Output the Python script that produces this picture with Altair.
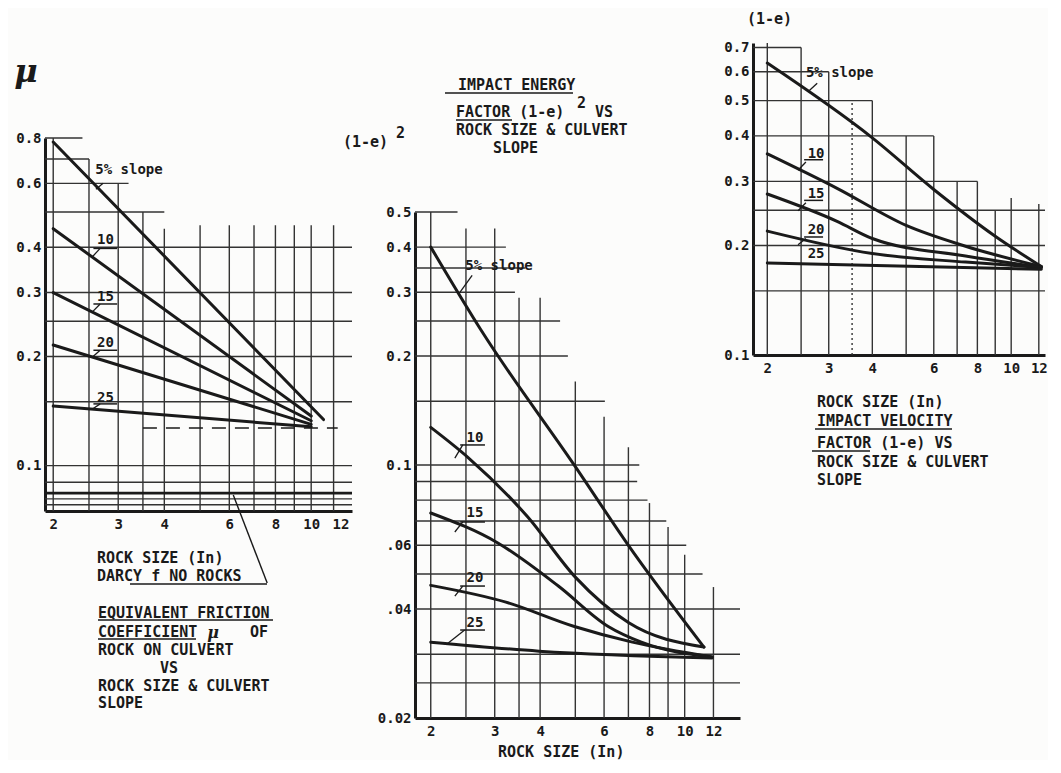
import altair as alt
import pandas as pd

FONT = "DejaVu Sans Mono"
SERIF = "DejaVu Serif"
INK = "#1a1a1a"
GRID = "#333333"
H = 750  # common height of the three columns (pixels)

# ------------------------------------------------------------------ data
ROCK_TICKS = [2, 3, 4, 6, 8, 10, 12]
SLOPE_KEYS = ["5", "10", "15", "20", "25"]
SLOPE_LABELS = ["5% slope", "10", "15", "20", "25"]

# Panel 1 : equivalent friction coefficient mu
P1_X = [[2, 10.8], [2, 10], [2, 10], [2, 10], [2, 10]]
P1_Y = [[0.78, 0.134], [0.45, 0.137], [0.30, 0.133], [0.215, 0.130], [0.146, 0.128]]
P1_XDOM = [1.90, 12.9]
P1_YDOM = [0.075, 0.8]
P1_YTICKS = [0.1, 0.2, 0.3, 0.4, 0.6, 0.8]
P1_YLABELS = ["0.1", "0.2", "0.3", "0.4", "0.6", "0.8"]
P1_VGRID_X = [2, 2.5, 3, 3.5, 4, 5, 6, 7, 8, 9, 10, 11.5]
P1_VGRID_TOP = [0.8, 0.7, 0.6, 0.5, 0.45, 0.46, 0.46, 0.46, 0.46, 0.46, 0.46, 0.46]
P1_HGRID_Y = [0.8, 0.7, 0.6, 0.5, 0.4, 0.3, 0.25, 0.2, 0.15, 0.1, 0.09, 0.081, 0.078]
P1_HGRID_END = [2.4, 2.5, 3.2, 4.0, 12.9, 12.9, 12.9, 12.9, 12.9, 12.9, 12.9, 12.9, 12.9]
P1_DARCY_F = 0.084
P1_DASH_Y = 0.127
P1_DASH_X = [3.5, 11.8]

# Panel 2 : impact energy factor (1-e)^2
P2_X = [[2, 2.75, 5, 7, 11.3],
        [2, 2.53, 3.7, 5, 7, 11.3],
        [2, 3.06, 4.49, 6.16, 7.6, 11.9],
        [2, 3.22, 4.97, 7.18, 11.9],
        [2, 3.97, 11.9]]
P2_Y = [[0.40, 0.236, 0.099, 0.060, 0.0314],
        [0.127, 0.105, 0.0718, 0.049, 0.0367, 0.0314],
        [0.0737, 0.0609, 0.0463, 0.0358, 0.0324, 0.0295],
        [0.0465, 0.0418, 0.0358, 0.0324, 0.0295],
        [0.0324, 0.0306, 0.0293]]
P2_XDOM = [1.81, 14.2]
P2_YDOM = [0.02, 0.5]
P2_YTICKS = [0.02, 0.04, 0.06, 0.1, 0.2, 0.3, 0.4, 0.5]
P2_YLABELS = ["0.02", ".04", ".06", "0.1", "0.2", "0.3", "0.4", "0.5"]
P2_VGRID_X = [2, 2.5, 3, 3.5, 4, 5, 6, 7, 8, 9, 10, 12]
P2_VGRID_TOP = [0.5, 0.45, 0.45, 0.29, 0.29, 0.17, 0.136, 0.112, 0.0785, 0.0674, 0.0565, 0.046]
P2_HGRID_Y = [0.5, 0.4, 0.35, 0.3, 0.25, 0.2, 0.15, 0.1, 0.09, 0.08, 0.07, 0.06, 0.05, 0.04, 0.03, 0.025]
P2_HGRID_END = [2.37, 3.22, 3.64, 3.41, 4.54, 4.77, 6.03, 7.5, 7.4, 7.9, 8.9, 10.1, 11.2, 14.2, 14.2, 14.2]

# Panel 3 : impact velocity factor (1-e)
P3_X = [[2, 4, 6, 9, 12.2],
        [2, 3.17, 5, 7.4, 12.2],
        [2, 3.17, 4, 7.4, 12.2],
        [2, 4, 7.4, 12.2],
        [2, 12.2]]
P3_Y = [[0.634, 0.395, 0.285, 0.212, 0.175],
        [0.357, 0.287, 0.227, 0.199, 0.175],
        [0.277, 0.233, 0.209, 0.187, 0.174],
        [0.219, 0.19, 0.18, 0.174],
        [0.179, 0.172]]
P3_XDOM = [1.82, 12.5]
P3_YDOM = [0.1, 0.72]
P3_YTICKS = [0.1, 0.2, 0.3, 0.4, 0.5, 0.6, 0.7]
P3_YLABELS = ["0.1", "0.2", "0.3", "0.4", "0.5", "0.6", "0.7"]
P3_VGRID_X = [2, 2.5, 3, 4, 5, 6, 7, 8, 9, 10, 12]
P3_VGRID_TOP = [0.72, 0.7, 0.6, 0.5, 0.4, 0.4, 0.3, 0.3, 0.25, 0.27, 0.26]
P3_DOTTED_X = [3.5]
P3_DOTTED_TOP = [0.5]
P3_HGRID_Y = [0.7, 0.6, 0.5, 0.4, 0.3, 0.25, 0.2, 0.15]
P3_HGRID_END = [2.5, 3, 4, 6, 8, 12.5, 12.5, 12.5]

# captions
P1_CAPTION = ["ROCK SIZE (In)", "DARCY f  NO ROCKS", "EQUIVALENT FRICTION", "COEFFICIENT",
              "OF", "ROCK ON CULVERT", "VS", "ROCK SIZE & CULVERT", "SLOPE"]
P2_CAPTION = ["IMPACT ENERGY", "FACTOR (1-e)", "2", "VS", "ROCK SIZE & CULVERT", "SLOPE"]
P2_AXIS_TEXT = ["(1-e)", "2", "ROCK SIZE (In)"]
P3_CAPTION = ["ROCK SIZE (In)", "IMPACT VELOCITY", "FACTOR (1-e) VS", "ROCK SIZE & CULVERT", "SLOPE"]
P3_AXIS_TEXT = "(1-e)"
MU = "μ"

ONE = pd.DataFrame({"k": [0]})


# ------------------------------------------------------------------ helpers
def label_expr(vals, labels):
    parts = [f"abs(datum.value - {v}) < 1e-9 ? '{l}'" for v, l in zip(vals, labels)]
    return " : ".join(parts) + " : ''"


def x_axis(offset):
    return alt.Axis(values=ROCK_TICKS, format="d", title=None, grid=False, ticks=False,
                    tickSize=0, domainColor=INK, domainWidth=3, labelFont=FONT,
                    labelFontSize=14, labelFontWeight="bold", labelColor=INK,
                    labelPadding=6, labelOverlap=False, labelFlush=False, offset=offset)


def y_axis(vals, labels):
    return alt.Axis(values=vals, labelExpr=label_expr(vals, labels), title=None, grid=False,
                    ticks=False, tickSize=0, domainColor=INK, domainWidth=3, labelFont=FONT,
                    labelFontSize=14, labelFontWeight="bold", labelColor=INK,
                    labelPadding=4, labelOverlap=False, labelFlush=False)


def curves_df(xs, ys):
    rows = []
    for key, xl, yl in zip(SLOPE_KEYS, xs, ys):
        for i, (a, b) in enumerate(zip(xl, yl)):
            rows.append({"slope": key, "i": i, "x": a, "y": b})
    return pd.DataFrame(rows)


def txt(t, x, y, size=15, align="left", font=FONT, style="normal", weight="bold"):
    return (alt.Chart(ONE)
            .mark_text(text=t, align=align, baseline="middle", font=font, fontSize=size,
                       fontStyle=style, fontWeight=weight, color=INK)
            .encode(x=alt.value(x), y=alt.value(y)))


def uline(x1, x2, y, w=1.6):
    return (alt.Chart(ONE).mark_rule(color=INK, strokeWidth=w)
            .encode(x=alt.value(x1), x2=alt.value(x2), y=alt.value(y)))


def panel(cx, cy, xdom, ydom, yticks, ylabels, vgx, vgtop, hgy, hgend,
          lab_x, lab_y, unders, leaders, pw, ytop, ybot, colw, interp,
          notes, extra_fn=None, dotted=None):
    xsc = alt.Scale(type="log", domain=xdom, nice=False, range=[0, pw])
    ysc = alt.Scale(type="log", domain=ydom, nice=False, range=[ybot, ytop])
    xax = x_axis(-(H - ybot))
    yax = y_axis(yticks, ylabels)

    def X():
        return alt.X("x:Q", scale=xsc, axis=xax)

    def Y():
        return alt.Y("y:Q", scale=ysc, axis=yax)

    vdf = pd.DataFrame({"x": vgx, "y": [ydom[0]] * len(vgx), "y2": vgtop})
    hdf = pd.DataFrame({"y": hgy, "x": [xdom[0]] * len(hgy), "x2": hgend})
    layers = [
        alt.Chart(vdf).mark_rule(color=GRID, strokeWidth=1.4).encode(x=X(), y=Y(), y2="y2:Q"),
        alt.Chart(hdf).mark_rule(color=GRID, strokeWidth=1.4).encode(x=X(), x2="x2:Q", y=Y()),
    ]
    if dotted is not None:
        ddf = pd.DataFrame({"x": dotted[0], "y": [ydom[0]] * len(dotted[0]), "y2": dotted[1]})
        layers.append(alt.Chart(ddf).mark_rule(color=GRID, strokeWidth=1.4, strokeDash=[2, 3])
                      .encode(x=X(), y=Y(), y2="y2:Q"))
    if extra_fn is not None:
        layers += extra_fn(X, Y)
    cdf = curves_df(cx, cy)
    layers.append(alt.Chart(cdf).mark_line(color=INK, strokeWidth=3, interpolate=interp,
                                           strokeCap="round")
                  .encode(x=X(), y=Y(), detail="slope:N", order="i:Q"))
    tdf = pd.DataFrame({"x": lab_x, "y": lab_y, "t": SLOPE_LABELS})
    layers.append(alt.Chart(tdf).mark_text(align="left", baseline="middle", font=FONT,
                                           fontSize=14, fontWeight="bold", color=INK)
                  .encode(x=X(), y=Y(), text="t:N"))
    udf = pd.DataFrame({"x": [u[0] for u in unders], "x2": [u[1] for u in unders],
                        "y": [u[2] for u in unders]})
    layers.append(alt.Chart(udf).mark_rule(color=INK, strokeWidth=1.5)
                  .encode(x=X(), x2="x2:Q", y=Y()))
    ldf = pd.DataFrame({"x": [l[0] for l in leaders], "y": [l[1] for l in leaders],
                        "x2": [l[2] for l in leaders], "y2": [l[3] for l in leaders]})
    layers.append(alt.Chart(ldf).mark_rule(color=INK, strokeWidth=1.3)
                  .encode(x=X(), y=Y(), x2="x2:Q", y2="y2:Q"))
    layers += notes
    return alt.layer(*layers).properties(width=colw, height=H)


# ------------------------------------------------------------------ panel 1
def p1_extra(X, Y):
    thick = pd.DataFrame({"x": [P1_XDOM[0]], "x2": [P1_XDOM[1]], "y": [P1_DARCY_F]})
    dash = pd.DataFrame({"x": [P1_DASH_X[0]], "x2": [P1_DASH_X[1]], "y": [P1_DASH_Y]})
    arrow = pd.DataFrame({"x": [7.6], "y": [0.0475], "x2": [6.15], "y2": [0.083]})
    return [
        alt.Chart(thick).mark_rule(color=INK, strokeWidth=2.6).encode(x=X(), x2="x2:Q", y=Y()),
        alt.Chart(dash).mark_rule(color=INK, strokeWidth=1.6, strokeDash=[14, 9])
        .encode(x=X(), x2="x2:Q", y=Y()),
        alt.Chart(arrow).mark_rule(color=INK, strokeWidth=1.4)
        .encode(x=X(), y=Y(), x2="x2:Q", y2="y2:Q"),
    ]


B1 = 503  # bottom of panel 1 plot area
notes1 = [
    txt(MU, -19, 64, size=32, align="center", font=SERIF, style="italic", weight="bold"),
    txt(P1_CAPTION[0], 52, B1 + 47),
    txt(P1_CAPTION[1], 52, B1 + 65), uline(85, 222, B1 + 73),
    txt(P1_CAPTION[2], 53, B1 + 102), uline(53, 228, B1 + 109),
    txt(P1_CAPTION[3], 53, B1 + 121), uline(53, 151, B1 + 128),
    txt(MU, 168, B1 + 122, size=16, align="center", font=SERIF, style="italic", weight="bold"),
    txt(P1_CAPTION[4], 205, B1 + 121),
    txt(P1_CAPTION[5], 53, B1 + 139),
    txt(P1_CAPTION[6], 115, B1 + 157),
    txt(P1_CAPTION[7], 53, B1 + 175),
    txt(P1_CAPTION[8], 53, B1 + 192),
]
p1 = panel(P1_X, P1_Y, P1_XDOM, P1_YDOM, P1_YTICKS, P1_YLABELS,
           P1_VGRID_X, P1_VGRID_TOP, P1_HGRID_Y, P1_HGRID_END,
           [2.6, 2.63, 2.63, 2.63, 2.63], [0.653, 0.419, 0.292, 0.218, 0.154],
           [(2.57, 2.98, 0.397), (2.57, 2.98, 0.279), (2.57, 2.98, 0.208), (2.57, 2.98, 0.148)],
           [(2.73, 0.60, 2.61, 0.578), (2.68, 0.397, 2.55, 0.376), (2.68, 0.279, 2.55, 0.265),
            (2.68, 0.208, 2.55, 0.199), (2.68, 0.148, 2.55, 0.143)],
           307, 130, B1, 370, "linear", notes1, extra_fn=p1_extra)

# ------------------------------------------------------------------ panel 2
B2 = 710
notes2 = [
    txt(P2_CAPTION[0], 43, 77), uline(30, 158, 85),
    txt(P2_CAPTION[1], 41, 104), uline(41, 97, 112),
    txt(P2_CAPTION[2], 162, 95),
    txt(P2_CAPTION[3], 180, 104),
    txt(P2_CAPTION[4], 41, 122),
    txt(P2_CAPTION[5], 78, 140),
    txt(P2_AXIS_TEXT[0], -72, 134),
    txt(P2_AXIS_TEXT[1], -19, 125),
    txt(P2_AXIS_TEXT[2], 83, B2 + 34),
]
p2 = panel(P2_X, P2_Y, P2_XDOM, P2_YDOM, P2_YTICKS, P2_YLABELS,
           P2_VGRID_X, P2_VGRID_TOP, P2_HGRID_Y, P2_HGRID_END,
           [2.49, 2.51, 2.51, 2.51, 2.51], [0.354, 0.1187, 0.0737, 0.0487, 0.0366],
           [(2.41, 2.82, 0.1136), (2.41, 2.82, 0.0696), (2.41, 2.82, 0.0463), (2.41, 2.82, 0.035)],
           [(2.60, 0.334, 2.40, 0.299), (2.45, 0.1136, 2.33, 0.1045), (2.45, 0.0696, 2.33, 0.0653),
            (2.45, 0.0463, 2.33, 0.0434), (2.48, 0.035, 2.23, 0.0322)],
           325, 204, B2, 338, "monotone", notes2)

# ------------------------------------------------------------------ panel 3
B3 = 347
notes3 = [
    txt(P3_AXIS_TEXT, -6, 11),
    txt(P3_CAPTION[0], 64, B3 + 47),
    txt(P3_CAPTION[1], 64, B3 + 66), uline(62, 199, B3 + 74),
    txt(P3_CAPTION[2], 64, B3 + 88), uline(59, 117, B3 + 96),
    txt(P3_CAPTION[3], 64, B3 + 107),
    txt(P3_CAPTION[4], 64, B3 + 125),
]
p3 = panel(P3_X, P3_Y, P3_XDOM, P3_YDOM, P3_YTICKS, P3_YLABELS,
           P3_VGRID_X, P3_VGRID_TOP, P3_HGRID_Y, P3_HGRID_END,
           [2.58, 2.61, 2.61, 2.61, 2.61], [0.595, 0.357, 0.277, 0.221, 0.189],
           [(2.55, 2.89, 0.344), (2.55, 2.89, 0.266), (2.55, 2.89, 0.211)],
           [(2.78, 0.558, 2.64, 0.533), (2.58, 0.339, 2.45, 0.322), (2.58, 0.262, 2.45, 0.249),
            (2.58, 0.209, 2.45, 0.201)],
           292, 35, B3, 292, "monotone", notes3, dotted=(P3_DOTTED_X, P3_DOTTED_TOP))

chart = (alt.hconcat(p1, p2, p3, spacing=0, bounds="flush")
         .properties(padding={"left": 6, "top": 0, "right": 0, "bottom": 0},
                     background="#fcfcfb")
         .configure_view(strokeWidth=0, stroke="transparent"))

chart.save("out.html", embed_options={"renderer": "svg", "actions": False})
